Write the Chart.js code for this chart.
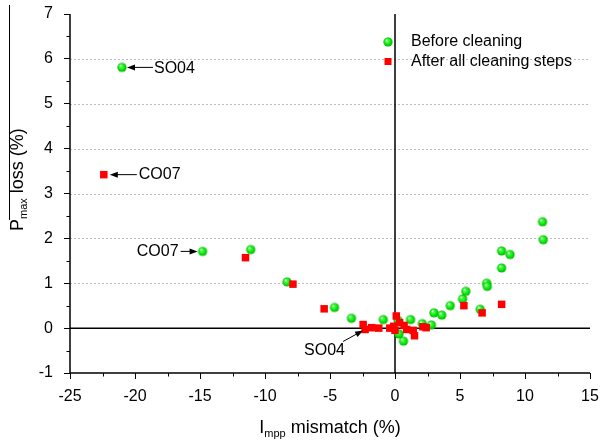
<!DOCTYPE html>
<html><head><meta charset="utf-8">
<script src="https://cdn.jsdelivr.net/npm/chart.js@4"></script>
<style>html,body{margin:0;padding:0;background:#fff}#wrap{width:601px;height:444px;position:relative}</style>
</head><body><div id="wrap"><canvas id="c" width="601" height="444"></canvas></div>
<script>
// ---- data ----
const seriesLabels = ['Before cleaning', 'After all cleaning steps'];
const beforeX = [-21.0, -14.8, -11.1, -8.3, -4.65, -3.35, -0.9, 0.25, 1.2, 0.3, 0.65, 2.1, 2.8, 3.0, 3.6, 4.25, 5.2, 5.45, 6.55, 7.05, 7.1, 8.2, 8.85, 8.2, 11.35, 11.4];
const beforeY = [5.81, 1.71, 1.75, 1.03, 0.46, 0.22, 0.19, 0.17, 0.19, -0.13, -0.29, 0.10, 0.07, 0.34, 0.29, 0.50, 0.65, 0.82, 0.42, 1.00, 0.93, 1.72, 1.64, 1.34, 2.37, 1.97];
const afterX = [-22.4, -11.5, -7.85, -5.45, -2.45, -2.3, -1.8, -1.25, -0.4, -0.1, 0.1, 0.0, 0.35, 0.7, 0.9, 1.4, 1.5, 2.15, 2.4, 5.3, 6.7, 8.2];
const afterY = [3.42, 1.57, 0.98, 0.43, 0.08, -0.03, 0.01, 0.0, 0.0, 0.04, 0.27, -0.05, 0.12, 0.06, -0.03, -0.05, -0.17, 0.03, 0.01, 0.50, 0.34, 0.53];
const xTicks = [-25, -20, -15, -10, -5, 0, 5, 10, 15];
const yTicks = [-1, 0, 1, 2, 3, 4, 5, 6, 7];
const yGridValues = [1, 2, 3, 4, 5, 6];
const xTitle = ['I', 'mpp', ' mismatch (%)'];
const yTitle = ['P', 'max', ' loss (%)'];
// labelled points: series index, point index, text
const callouts = [
  {series: 0, index: 0, text: 'SO04'},
  {series: 1, index: 0, text: 'CO07'},
  {series: 0, index: 1, text: 'CO07'},
  {series: 1, index: 5, text: 'SO04'}
];

// ---- styles ----
const FONT = '"Liberation Sans", Arial, sans-serif';
Chart.defaults.font.family = FONT;
Chart.defaults.font.size = 16;
Chart.defaults.color = '#000';

function makeBall(r) {
  const s = Math.ceil(r * 2 + 2);
  const c = document.createElement('canvas');
  c.width = s; c.height = s;
  const g = c.getContext('2d');
  const cx = s / 2, cy = s / 2;
  const grad = g.createRadialGradient(cx - r * 0.35, cy - r * 0.4, r * 0.05, cx, cy, r);
  grad.addColorStop(0, '#f0fff0');
  grad.addColorStop(0.3, '#3cff3c');
  grad.addColorStop(0.8, '#00d800');
  grad.addColorStop(1, '#00a800');
  g.fillStyle = grad;
  g.beginPath(); g.arc(cx, cy, r, 0, Math.PI * 2); g.fill();
  return c;
}
const ball = makeBall(4.6);
const RED = '#ff0000';

// callout geometry (pixel offsets from the labelled point)
const calloutStyle = [
  {tx: 32, ty: 1, align: 'left', a1: [31, 0], a2: [5, 0]},
  {tx: 35, ty: 0, align: 'left', a1: [33, 0], a2: [6, 0]},
  {tx: -24, ty: 0, align: 'right', a1: [-22, 0], a2: [-5, 0]},
  {tx: -61, ty: 21, align: 'left', a1: [-22, 12], a2: [-2, 1]}
];

function arrow(ctx, x1, y1, x2, y2) {
  const ang = Math.atan2(y2 - y1, x2 - x1);
  const L = 8, W = 3;
  ctx.beginPath();
  ctx.moveTo(x1, y1);
  ctx.lineTo(x2 - Math.cos(ang) * L * 0.8, y2 - Math.sin(ang) * L * 0.8);
  ctx.stroke();
  ctx.beginPath();
  ctx.moveTo(x2, y2);
  ctx.lineTo(x2 - Math.cos(ang) * L - Math.sin(ang) * W, y2 - Math.sin(ang) * L + Math.cos(ang) * W);
  ctx.lineTo(x2 - Math.cos(ang) * L + Math.sin(ang) * W, y2 - Math.sin(ang) * L - Math.cos(ang) * W);
  ctx.closePath();
  ctx.fill();
}

const decor = {
  id: 'decor',
  beforeDatasetsDraw(chart) {
    const {ctx, chartArea: a, scales: {x, y}} = chart;
    ctx.save();
    // dotted grid lines
    ctx.strokeStyle = '#bdbdbd';
    ctx.lineWidth = 1;
    ctx.setLineDash([2, 2]);
    ctx.beginPath();
    yGridValues.forEach(v => {
      const py = Math.round(y.getPixelForValue(v)) + 0.5;
      ctx.moveTo(a.left, py); ctx.lineTo(a.right, py);
    });
    ctx.stroke();
    ctx.setLineDash([]);
    ctx.strokeStyle = '#000';
    ctx.lineWidth = 1.5;
    ctx.beginPath();
    ctx.moveTo(a.left, a.top); ctx.lineTo(a.left, a.bottom); ctx.lineTo(a.right, a.bottom);
    const x0 = x.getPixelForValue(0), y0 = y.getPixelForValue(0);
    ctx.moveTo(a.left, y0); ctx.lineTo(a.right, y0);
    ctx.moveTo(x0, a.top); ctx.lineTo(x0, a.bottom);
    ctx.stroke();
    // minor ticks
    ctx.lineWidth = 1;
    ctx.beginPath();
    for (let i = 0; i < xTicks.length - 1; i++) {
      const px = Math.round(x.getPixelForValue((xTicks[i] + xTicks[i + 1]) / 2)) + 0.5;
      ctx.moveTo(px, a.bottom); ctx.lineTo(px, a.bottom + 3.5);
    }
    for (let i = 0; i < yTicks.length - 1; i++) {
      const py = Math.round(y.getPixelForValue((yTicks[i] + yTicks[i + 1]) / 2)) + 0.5;
      ctx.moveTo(a.left, py); ctx.lineTo(a.left - 3.5, py);
    }
    ctx.stroke();
    ctx.restore();
  },
  afterDatasetsDraw(chart) {
    const {ctx} = chart;
    ctx.save();
    ctx.fillStyle = '#000';
    ctx.strokeStyle = '#000';
    ctx.lineWidth = 1;
    ctx.font = '16px ' + FONT;
    ctx.textBaseline = 'middle';
    callouts.forEach((c, i) => {
      const el = chart.getDatasetMeta(c.series).data[c.index];
      const st = calloutStyle[i];
      ctx.textAlign = st.align;
      ctx.fillText(c.text, el.x + st.tx, el.y + st.ty);
      arrow(ctx, el.x + st.a1[0], el.y + st.a1[1], el.x + st.a2[0], el.y + st.a2[1]);
    });
    // legend
    const lx = 388, ly = 42, gap = 19.5;
    ctx.textAlign = 'left';
    ctx.drawImage(ball, lx - ball.width / 2, ly - ball.height / 2);
    ctx.fillText(seriesLabels[0], lx + 23, ly);
    ctx.fillStyle = RED;
    ctx.fillRect(lx - 3.5, ly + gap - 3.5, 7, 7);
    ctx.fillStyle = '#000';
    ctx.fillText(seriesLabels[1], lx + 23, ly + gap);
    ctx.restore();
  },
  afterDraw(chart) {
    const {ctx, chartArea: a} = chart;
    ctx.save();
    ctx.fillStyle = '#000';
    ctx.textBaseline = 'alphabetic';
    ctx.textAlign = 'left';
    const big = '18px ' + FONT, small = '11px ' + FONT;
    // x title
    ctx.font = big; const w0 = ctx.measureText(xTitle[0]).width, w2 = ctx.measureText(xTitle[2]).width;
    ctx.font = small; const w1 = ctx.measureText(xTitle[1]).width;
    let sx = (a.left + a.right) / 2 - (w0 + w1 + w2) / 2;
    const by = 433;
    ctx.font = big; ctx.fillText(xTitle[0], sx, by);
    ctx.font = small; ctx.fillText(xTitle[1], sx + w0, by + 4);
    ctx.font = big; ctx.fillText(xTitle[2], sx + w0 + w1, by);
    // y title
    ctx.font = big; const v0 = ctx.measureText(yTitle[0]).width;
    ctx.font = small; const v1 = ctx.measureText(yTitle[1]).width;
    const bx = 23, startY = 231;
    ctx.save();
    ctx.translate(bx, startY);
    ctx.rotate(-Math.PI / 2);
    ctx.font = big; ctx.fillText(yTitle[0], 0, 0);
    ctx.font = small; ctx.fillText(yTitle[1], v0, 4);
    ctx.font = big; ctx.fillText(yTitle[2], v0 + v1, 0);
    ctx.restore();
    // overline next to the y title
    ctx.strokeStyle = '#000'; ctx.lineWidth = 1;
    ctx.beginPath(); ctx.moveTo(bx - 13.5, 5); ctx.lineTo(bx - 13.5, startY - 11); ctx.stroke();
    ctx.restore();
  }
};

const toPts = (xs, ys) => xs.map((v, i) => ({x: v, y: ys[i]}));

new Chart(document.getElementById('c'), {
  type: 'scatter',
  data: {
    datasets: [
      {label: seriesLabels[0], data: toPts(beforeX, beforeY), pointStyle: ball, pointRadius: 5, order: 2},
      {label: seriesLabels[1], data: toPts(afterX, afterY), pointStyle: 'rect', pointRadius: 5.3,
        backgroundColor: RED, borderWidth: 0, order: 1}
    ]
  },
  options: {
    responsive: false,
    animation: false,
    events: [],
    layout: {padding: {top: 14, right: 11, left: 0, bottom: 0}},
    plugins: {legend: {display: false}, tooltip: {enabled: false}},
    scales: {
      x: {
        type: 'linear', min: -25, max: 15,
        afterBuildTicks: s => { s.ticks = xTicks.map(v => ({value: v})); },
        afterFit: s => { s.height = 71; s.paddingLeft = 0; s.paddingRight = 0; },
        ticks: {padding: 8, autoSkip: false, maxRotation: 0},
        grid: {drawOnChartArea: false, tickLength: 6, tickColor: '#000', tickWidth: 1},
        border: {display: false}
      },
      y: {
        type: 'linear', min: -1, max: 7,
        afterBuildTicks: s => { s.ticks = yTicks.map(v => ({value: v})); },
        afterFit: s => { s.width = 70; s.paddingTop = 0; s.paddingBottom = 0; },
        ticks: {padding: 11, autoSkip: false},
        grid: {drawOnChartArea: false, tickLength: 6, tickColor: '#000', tickWidth: 1},
        border: {display: false}
      }
    }
  },
  plugins: [decor]
});
</script></body></html>
